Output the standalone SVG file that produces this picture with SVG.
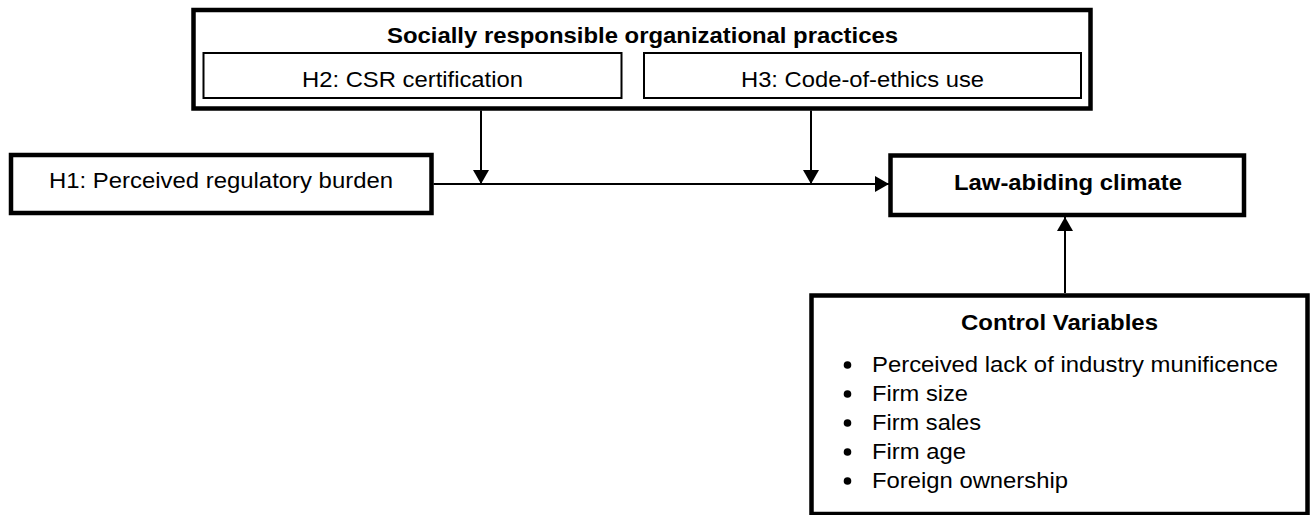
<svg xmlns="http://www.w3.org/2000/svg" width="1310" height="515" viewBox="0 0 1310 515">
  <style>
    .thick { fill: #fff; stroke: #000; stroke-width: 4.5; }
    .thin { fill: #fff; stroke: #000; stroke-width: 2; }
    .t { font-family: "Liberation Sans", Arial, sans-serif; font-size: 22px; fill: #000; }
    .b { font-weight: bold; }
    .c { text-anchor: middle; }
    .conn { stroke: #000; stroke-width: 2; fill: none; }
  </style>
  <defs>
    <marker id="arrow" viewBox="0 0 14 16" refX="14" refY="8" markerWidth="14" markerHeight="16" markerUnits="userSpaceOnUse" orient="auto">
      <path d="M0,0 L14,8 L0,16 Z" fill="#000"/>
    </marker>
  </defs>
  <rect width="1310" height="515" fill="#fff"/>

  <g id="practices">
    <rect class="thick" x="193.5" y="10" width="897" height="98.5"/>
    <text class="t b c" x="642.5" y="43" textLength="511" lengthAdjust="spacingAndGlyphs">Socially responsible organizational practices</text>
  </g>
  <g id="h2">
    <rect class="thin" x="203.5" y="53" width="418" height="45"/>
    <text class="t c" x="412.5" y="87" textLength="221" lengthAdjust="spacingAndGlyphs">H2: CSR certification</text>
  </g>
  <g id="h3">
    <rect class="thin" x="644" y="53" width="437" height="45"/>
    <text class="t c" x="862.5" y="87" textLength="243" lengthAdjust="spacingAndGlyphs">H3: Code-of-ethics use</text>
  </g>
  <g id="h1">
    <rect class="thick" x="11" y="155" width="420.5" height="58"/>
    <text class="t c" x="221" y="188" textLength="344" lengthAdjust="spacingAndGlyphs">H1: Perceived regulatory burden</text>
  </g>
  <g id="law">
    <rect class="thick" x="890.5" y="155.5" width="353.5" height="59.5"/>
    <text class="t b c" x="1068" y="190" textLength="228" lengthAdjust="spacingAndGlyphs">Law-abiding climate</text>
  </g>
  <g id="controls">
    <rect class="thick" x="811.5" y="295.5" width="496" height="218.5"/>
    <text class="t b c" x="1059.5" y="330" textLength="197" lengthAdjust="spacingAndGlyphs">Control Variables</text>
    <circle cx="847.5" cy="365" r="3.8"/>
    <circle cx="847.5" cy="394" r="3.8"/>
    <circle cx="847.5" cy="423" r="3.8"/>
    <circle cx="847.5" cy="452" r="3.8"/>
    <circle cx="847.5" cy="481" r="3.8"/>
    <text class="t" x="872" y="372" textLength="406" lengthAdjust="spacingAndGlyphs">Perceived lack of industry munificence</text>
    <text class="t" x="872" y="401" textLength="96" lengthAdjust="spacingAndGlyphs">Firm size</text>
    <text class="t" x="872" y="430" textLength="109" lengthAdjust="spacingAndGlyphs">Firm sales</text>
    <text class="t" x="872" y="459" textLength="94" lengthAdjust="spacingAndGlyphs">Firm age</text>
    <text class="t" x="872" y="488" textLength="196" lengthAdjust="spacingAndGlyphs">Foreign ownership</text>
  </g>

  <g id="connectors">
    <line class="conn" x1="433.5" y1="184" x2="889" y2="184" marker-end="url(#arrow)"/>
    <line class="conn" x1="481" y1="110.5" x2="481" y2="184" marker-end="url(#arrow)"/>
    <line class="conn" x1="811" y1="110.5" x2="811" y2="184" marker-end="url(#arrow)"/>
    <line class="conn" x1="1065" y1="293" x2="1065" y2="217" marker-end="url(#arrow)"/>
  </g>
</svg>
